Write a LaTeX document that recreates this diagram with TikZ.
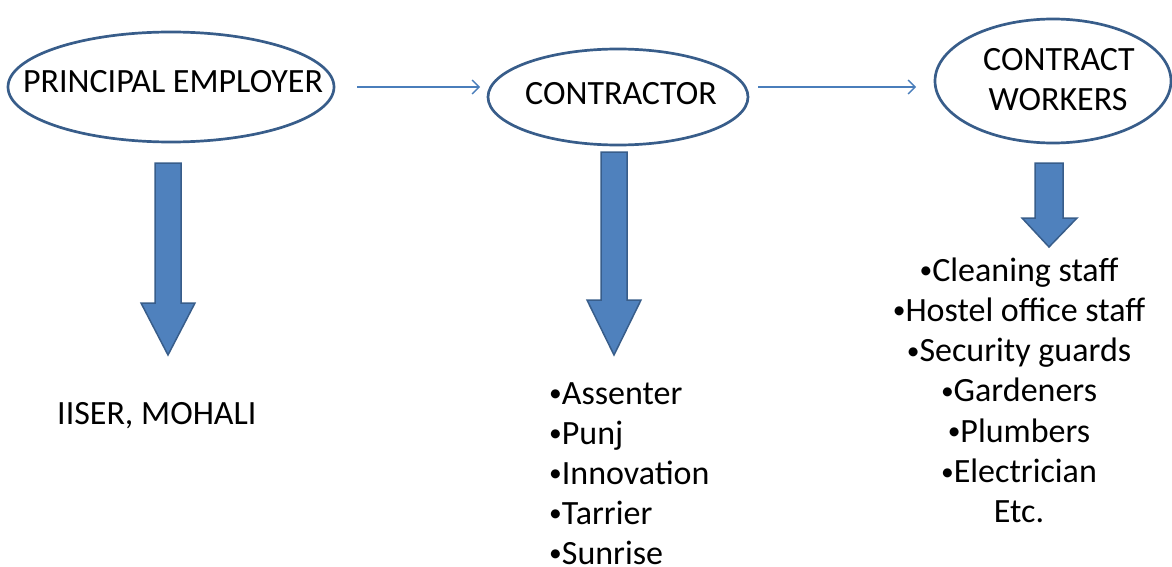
\documentclass[tikz,border=0pt]{standalone}
\usepackage{fontspec}
\setmainfont{Carlito}
\usetikzlibrary{shapes.geometric,arrows.meta,calc}
\definecolor{edgeblue}{RGB}{56,93,138}
\definecolor{fillblue}{RGB}{79,129,189}
\definecolor{connblue}{RGB}{74,126,187}
\newcommand\mybul{\raisebox{0.07em}{\scalebox{0.75}{•}}}
\begin{document}
\begin{tikzpicture}[x=1pt,y=-1pt,
  oval/.style={ellipse,draw=edgeblue,line width=2.7pt,inner sep=0pt},
  lbl/.style={inner sep=0pt,font=\fontsize{34}{40}\selectfont,anchor=base},
  conn/.style={draw=connblue,line width=1.3pt,-{Straight Barb[length=7pt,width=14pt,line width=1.3pt]}},
  barrow/.style={draw=edgeblue,line width=1.5pt,fill=fillblue,line join=miter}]
\useasboundingbox (0,0) rectangle (1172,567);
\clip (0,0) rectangle (1172,567);
% ovals
\node[oval,minimum width=326pt,minimum height=110pt] (pe) at (171,87) {};
\node[oval,minimum width=260pt,minimum height=96pt] (ct) at (618,97) {};
\node[oval,minimum width=236pt,minimum height=124pt] (cw) at (1053,81) {};
\node[lbl] (pet) at (173,93) {PRINCIPAL EMPLOYER};
\node[lbl] (ctt) at (621,105) {CONTRACTOR};
\node[lbl] (cwt1) at (1059,71) {CONTRACT};
\node[lbl] (cwt2) at (1058,111) {WORKERS};
% connectors
\coordinate (a1s) at (357,87);
\coordinate (a1e) at (480,87);
\coordinate (a2s) at (758,87);
\coordinate (a2e) at (916,87);
\draw[conn] (a1s) -- (a1e);
\draw[conn] (a2s) -- (a2e);
% block arrows
\draw[barrow] (155,163) -- (181,163) -- (181,303) -- (195,303) -- (168,355) -- (141,303) -- (155,303) -- cycle;
\draw[barrow] (601,152) -- (627,152) -- (627,300) -- (641,300) -- (614,355) -- (587,300) -- (601,300) -- cycle;
\draw[barrow] (1035,163) -- (1063,163) -- (1063,218) -- (1077,218) -- (1049,247) -- (1022,218) -- (1035,218) -- cycle;
% texts
\node[lbl,anchor=base west] (pel) at (57,424) {IISER, MOHALI};
\foreach \t [count=\i] in {Assenter,Punj,Innovation,Tarrier,Sunrise}
  \node[lbl,anchor=base west] (ctl\i) at (549,{404+40*(\i-1)}) {\mybul\t};
\foreach \t [count=\i] in {\mybul Cleaning staff,\mybul Hostel office staff,\mybul Security guards,\mybul Gardeners,\mybul Plumbers,\mybul Electrician,Etc.}
  \node[lbl] (cwl\i) at (1019,{281+40.3*(\i-1)}) {\t};
\end{tikzpicture}
\end{document}
